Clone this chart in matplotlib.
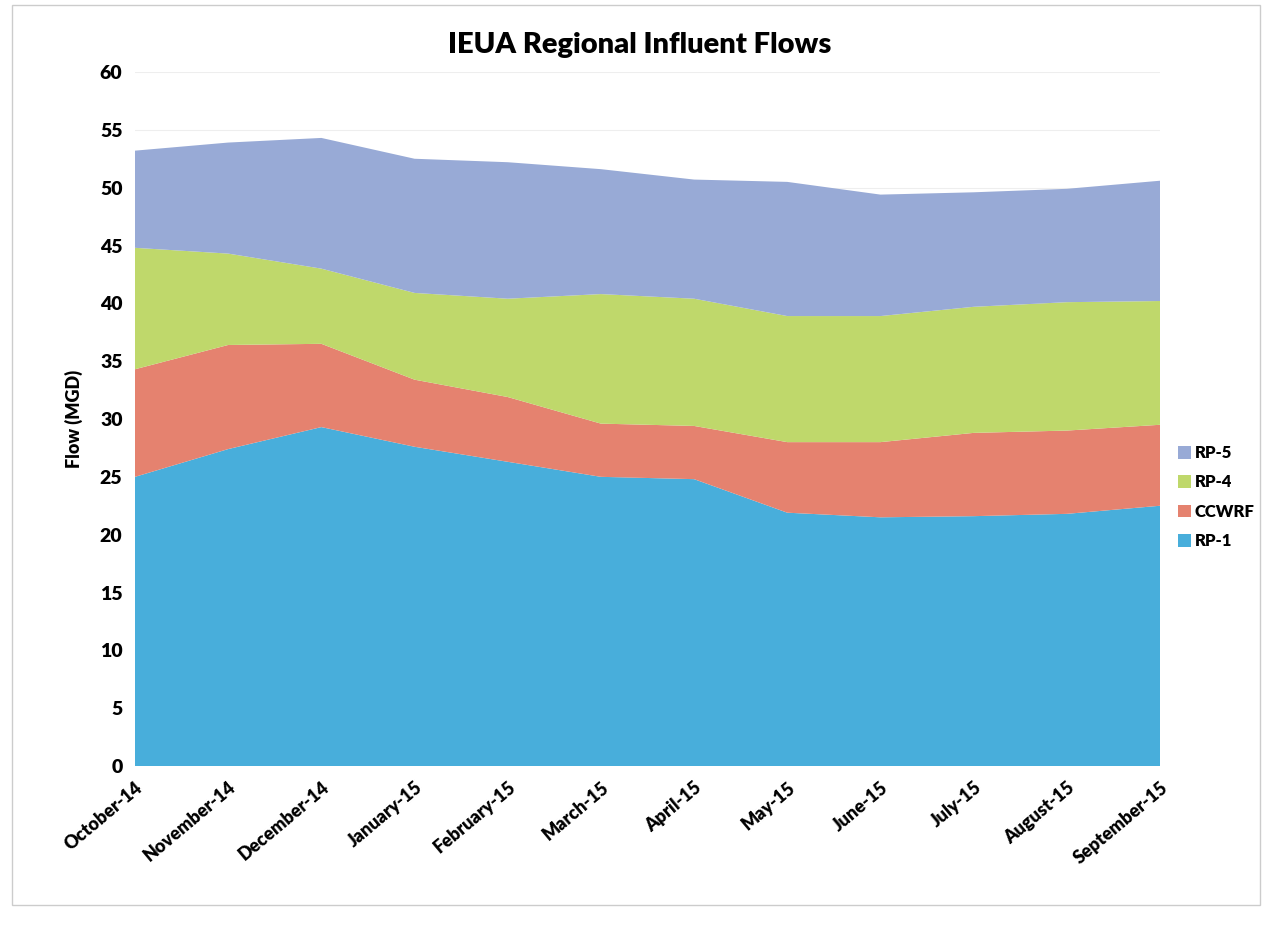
import matplotlib
matplotlib.use("Agg")
import matplotlib.pyplot as plt
from matplotlib.patches import Rectangle

months = ["October-14", "November-14", "December-14", "January-15", "February-15",
          "March-15", "April-15", "May-15", "June-15", "July-15", "August-15", "September-15"]
rp1 = [25.0, 27.4, 29.3, 27.6, 26.3, 25.0, 24.8, 21.9, 21.5, 21.6, 21.8, 22.5]
ccwrf = [9.3, 9.0, 7.2, 5.8, 5.6, 4.6, 4.6, 6.1, 6.5, 7.2, 7.2, 7.0]
rp4 = [10.5, 7.9, 6.5, 7.5, 8.5, 11.2, 11.0, 10.9, 10.9, 10.9, 11.1, 10.7]
rp5 = [8.4, 9.6, 11.3, 11.6, 11.8, 10.8, 10.3, 11.6, 10.5, 9.9, 9.8, 10.4]
series_names = ["RP-1", "CCWRF", "RP-4", "RP-5"]
colors = ["#48AEDB", "#E5826F", "#BFD86B", "#98AAD6"]
yticks = [0, 5, 10, 15, 20, 25, 30, 35, 40, 45, 50, 55, 60]

plt.rcParams['font.family'] = ['Lato', 'DejaVu Sans']
W = 'heavy'

fig = plt.figure(figsize=(12.67, 9.30), dpi=100)
ax = fig.add_axes([135/1267, 1-766/930, (1160-135)/1267, (766-72)/930])

x = list(range(len(months)))
ax.stackplot(x, rp1, ccwrf, rp4, rp5, colors=colors, labels=series_names, zorder=2)

ax.set_xlim(0, len(months) - 1)
ax.set_ylim(0, 60)
ax.set_yticks(yticks)
ax.set_yticklabels([str(v) for v in yticks], fontsize=14, fontweight=W)
ax.set_xticks(x)
ax.set_xticklabels(months, rotation=40, ha='right', rotation_mode='anchor',
                   fontsize=13, fontweight=W)
ax.tick_params(axis='both', length=0, pad=9)
ax.yaxis.grid(True, color='#EEEEEE', linewidth=0.8, zorder=0)
ax.set_axisbelow(True)
for s in ax.spines.values():
    s.set_visible(False)

ax.set_ylabel("Flow (MGD)", fontsize=13, fontweight=W, labelpad=12)
fig.text(0.505, 1-45/930, "IEUA Regional Influent Flows", ha='center', va='center',
         fontsize=21, fontweight=W)

handles, labels = ax.get_legend_handles_labels()
fig.legend(handles[::-1], labels[::-1], loc='center left',
           bbox_to_anchor=(1163/1267, 1-497/930), frameon=False,
           prop={'weight': W, 'size': 12}, handlelength=0.8, handleheight=0.8,
           handletextpad=0.2, labelspacing=0.8)

fig.patches.append(Rectangle((12/1267, 1-905/930), (1260-12)/1267, (905-5)/930,
                             transform=fig.transFigure, fill=False, edgecolor='#CCCCCC',
                             linewidth=1))

fig.savefig("out.png", dpi=100, facecolor='white')
